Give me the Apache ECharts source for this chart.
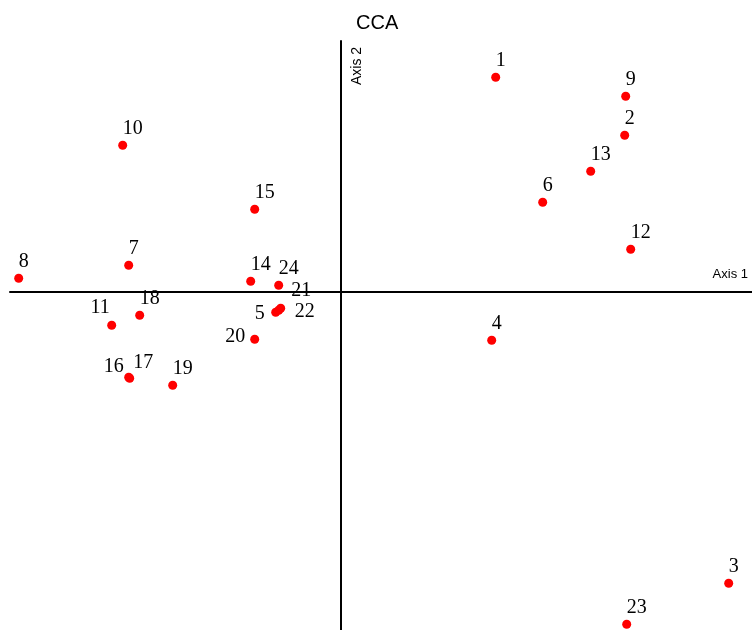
<!DOCTYPE html>
<html>
<head>
<meta charset="utf-8">
<title>CCA</title>
<script src="https://cdn.jsdelivr.net/npm/echarts@6/dist/echarts.min.js"></script>
<style>
  html, body { margin: 0; padding: 0; background: #ffffff; }
  #chart { width: 752px; height: 630px; }
</style>
</head>
<body>
<div id="chart"></div>
<script>
// Site scores on the first two canonical axes
var siteIds = ['1','2','3','4','5','6','7','8','9','10','11','12',
               '13','14','15','16','17','18','19','20','21','22','23','24'];
var axis1Scores = [1.55, 2.84, 3.88, 1.51, -0.65, 2.02, -2.12, -3.22, 2.85, -2.18, -2.29, 2.90,
                   2.50, -0.90, -0.86, -2.12, -2.11, -2.01, -1.68, -0.86, -0.60, -0.62, 2.86, -0.62];
var axis2Scores = [2.14, 1.56, -2.92, -0.49, -0.21, 0.89, 0.26, 0.13, 1.95, 1.46, -0.34, 0.42,
                   1.20, 0.10, 0.82, -0.86, -0.87, -0.24, -0.94, -0.48, -0.17, -0.19, -3.33, 0.06];

// Plot extents (axis units)
var axis1Range = [-3.307, 4.113];
var axis2Range = [-3.387, 2.503];

// Default label sits above-right of its point; crowded points get their own placement
var labelDefault = { align: 'left', offset: [0, -17] };
var labelPlacement = {
  '5':  { align: 'right', offset: [-11, 1.3] },
  '11': { align: 'right', offset: [-2, -17.5] },
  '16': { align: 'right', offset: [-5, -11] },
  '17': { align: 'left',  offset: [3.5, -16] },
  '20': { align: 'right', offset: [-9.5, -2.5] },
  '21': { align: 'left',  offset: [10.5, -18] },
  '22': { align: 'left',  offset: [16, 1.2] }
};

var points = siteIds.map(function (id, i) {
  var place = labelPlacement[id] || labelDefault;
  return {
    value: [axis1Scores[i], axis2Scores[i], id],
    label: { align: place.align, offset: place.offset }
  };
});

var chart = echarts.init(document.getElementById('chart'), null, { renderer: 'canvas' });

var axisCommon = {
  type: 'value',
  axisLine: { show: true, onZero: true, lineStyle: { color: '#000000', width: 2 } },
  axisTick: { show: false },
  axisLabel: { show: false },
  splitLine: { show: false }
};

chart.setOption({
  animation: false,
  backgroundColor: '#ffffff',
  title: {
    text: 'CCA',
    left: 356,
    top: 13,
    padding: 0,
    textStyle: {
      fontFamily: 'Liberation Sans, Arial, sans-serif',
      fontSize: 20,
      fontWeight: 'normal',
      color: '#000000'
    }
  },
  grid: { left: 10, right: 0, top: 41, bottom: 0, containLabel: false },
  xAxis: Object.assign({}, axisCommon, { min: axis1Range[0], max: axis1Range[1] }),
  yAxis: Object.assign({}, axisCommon, { min: axis2Range[0], max: axis2Range[1] }),
  graphic: [
    {
      type: 'text',
      right: 4,
      top: 268,
      style: {
        text: 'Axis 1',
        font: '13px "Liberation Sans", Arial, sans-serif',
        fill: '#000000'
      }
    },
    {
      type: 'text',
      x: 350,
      y: 85,
      rotation: Math.PI / 2,
      style: {
        text: 'Axis 2',
        font: '14px "Liberation Sans", Arial, sans-serif',
        fill: '#000000',
        align: 'left',
        verticalAlign: 'top'
      }
    }
  ],
  series: [
    {
      type: 'scatter',
      symbol: 'circle',
      symbolSize: 9,
      itemStyle: { color: '#ff0000', opacity: 1 },
      emphasis: { disabled: true },
      label: {
        show: true,
        position: 'inside',
        verticalAlign: 'middle',
        formatter: function (p) { return p.value[2]; },
        fontFamily: 'Liberation Serif, Times New Roman, serif',
        fontSize: 20,
        color: '#000000',
        opacity: 1,
        textBorderWidth: 0
      },
      data: points
    }
  ]
});
</script>
</body>
</html>
